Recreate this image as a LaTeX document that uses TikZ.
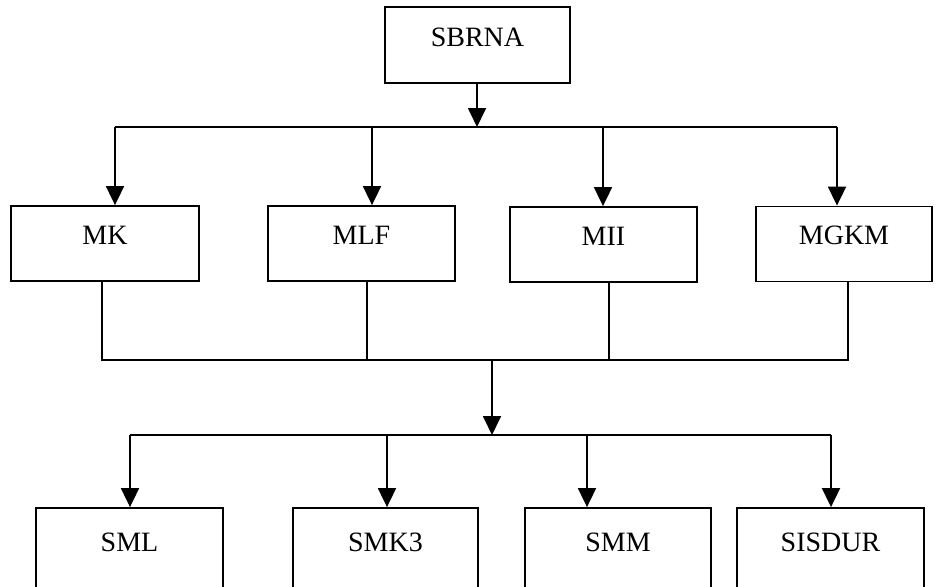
\documentclass[tikz,border=0pt]{standalone}
\usepackage{fontspec}
\setmainfont{Liberation Serif}
\usetikzlibrary{arrows.meta}
\begin{document}
\begin{tikzpicture}[x=1pt,y=-1pt, line width=1.8pt,
  box/.style={draw, rectangle, inner sep=0pt, font=\fontsize{28}{32}\selectfont, text height=38pt, text depth=37pt},
  lowbox/.style={box, text height=43pt, text depth=60pt},
  arr/.style={-{Triangle[width=18pt,length=19pt]}},
  ]
\useasboundingbox (0,0) rectangle (936,586);
\clip (0,0) rectangle (936,586);
% top
\node[box, minimum width=185pt, text height=39pt, text depth=37pt] (sbrna) at (477.5,45) {SBRNA};
% row 2
\node[box, minimum width=188pt] (mk)   at (105,243.5)   {MK};
\node[box, minimum width=187pt] (mlf)  at (361.5,243.5) {MLF};
\node[box, minimum width=187pt] (mii)  at (603.5,244.5) {MII};
\node[box, minimum width=176pt] (mgkm) at (844,244)     {MGKM};
% row 3
\node[lowbox, minimum width=187pt] (sml)    at (129.5,559.5) {SML};
\node[lowbox, minimum width=185pt] (smk)    at (385.5,559.5) {SMK3};
\node[lowbox, minimum width=186pt] (smm)    at (618,559.5)   {SMM};
\node[lowbox, minimum width=187pt] (sisdur) at (830.5,559.5) {SISDUR};
% bus 1
\coordinate (t0) at (477,127);
\coordinate (t1) at (115,127);
\coordinate (t2) at (372,127);
\coordinate (t3) at (603,127);
\coordinate (t4) at (837,127);
\draw[arr] (sbrna.south -| t0) -- (t0);
\draw (t1) -- (t4);
\draw[arr] (t1) -- (t1 |- mk.north);
\draw[arr] (t2) -- (t2 |- mlf.north);
\draw[arr] (t3) -- (t3 |- mii.north);
\draw[arr] (t4) -- (t4 |- mgkm.north);
% bus 2
\coordinate (m0) at (492,360);
\coordinate (m1) at (102,360);
\coordinate (m2) at (367,360);
\coordinate (m3) at (609,360);
\coordinate (m4) at (848,360);
\draw (mk.south -| m1) -- (m1) -- (m4) -- (mgkm.south -| m4);
\draw (mlf.south -| m2) -- (m2);
\draw (mii.south -| m3) -- (m3);
% bus 3
\coordinate (b0) at (492,435);
\coordinate (b1) at (130,435);
\coordinate (b2) at (387,435);
\coordinate (b3) at (587,435);
\coordinate (b4) at (831,435);
\draw[arr] (m0) -- (b0);
\draw (b1) -- (b4);
\draw[arr] (b1) -- (b1 |- sml.north);
\draw[arr] (b2) -- (b2 |- smk.north);
\draw[arr] (b3) -- (b3 |- smm.north);
\draw[arr] (b4) -- (b4 |- sisdur.north);
\end{tikzpicture}
\end{document}
